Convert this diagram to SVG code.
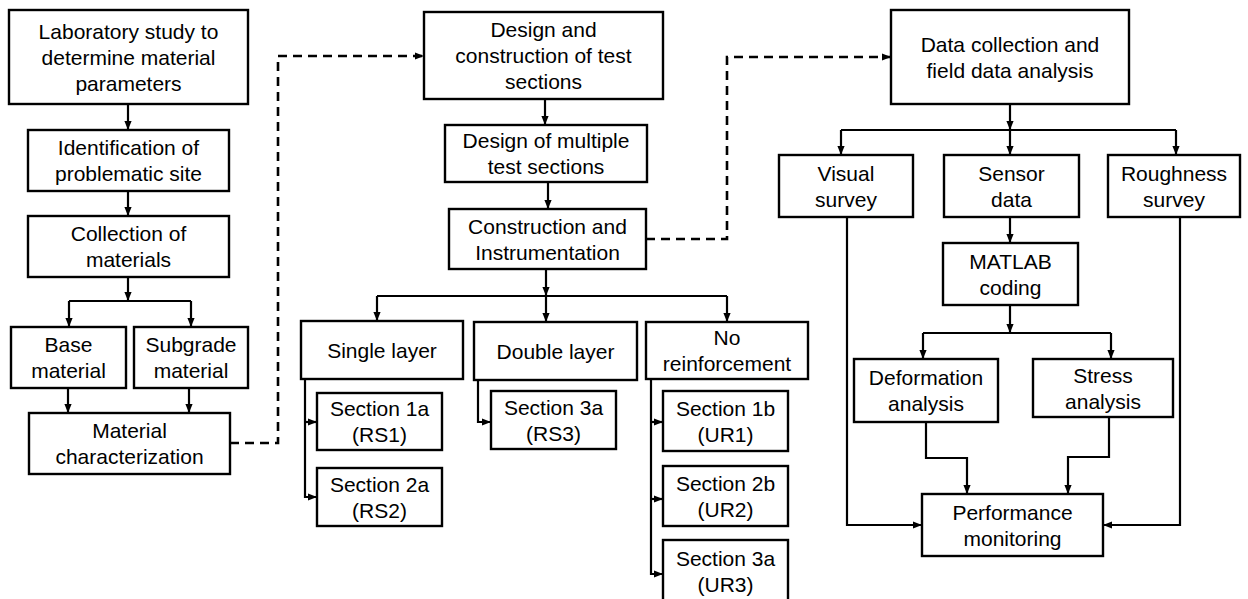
<svg xmlns="http://www.w3.org/2000/svg" width="1248" height="599" viewBox="0 0 1248 599">
  <style>
    .box rect { fill: #ffffff; stroke: #000000; stroke-width: 2.4; }
    .box text { font-family: "Liberation Sans", Arial, sans-serif; font-size: 21px; fill: #000000; text-anchor: middle; }
    .conn path { fill: none; stroke: #000000; stroke-width: 2.2; }
    .conn .dash { stroke-width: 2.6; stroke-dasharray: 9 6; }
  </style>
  <defs>
    <marker id="ah" viewBox="0 0 10 8" refX="10" refY="4" markerWidth="9" markerHeight="7.5" orient="auto" markerUnits="userSpaceOnUse">
      <path d="M0,0 L10,4 L0,8 z" fill="#000000"/>
    </marker>
  </defs>
  <rect width="1248" height="599" fill="#ffffff"/>

  <!-- connectors -->
  <g id="connectors" class="conn">
    <!-- laboratory column -->
    <path d="M128,104 V130" marker-end="url(#ah)"/>
    <path d="M128,191 V216" marker-end="url(#ah)"/>
    <path d="M128,277 V301" marker-end="url(#ah)"/>
    <path d="M69,301 H191"/>
    <path d="M69,301 V327" marker-end="url(#ah)"/>
    <path d="M191,301 V327" marker-end="url(#ah)"/>
    <path d="M68,388 V413" marker-end="url(#ah)"/>
    <path d="M189,388 V413" marker-end="url(#ah)"/>
    <path class="dash" d="M230,443 H278 V56 H424" marker-end="url(#ah)"/>

    <!-- test section column -->
    <path d="M545,99 V125" marker-end="url(#ah)"/>
    <path d="M548,182 V209" marker-end="url(#ah)"/>
    <path d="M546,269 V296" marker-end="url(#ah)"/>
    <path d="M377,296 H727"/>
    <path d="M377,296 V321" marker-end="url(#ah)"/>
    <path d="M546,296 V322" marker-end="url(#ah)"/>
    <path d="M727,296 V322" marker-end="url(#ah)"/>
    <path d="M305,379 V497 H317" marker-end="url(#ah)"/>
    <path d="M305,422 H317" marker-end="url(#ah)"/>
    <path d="M478,380 V422 H491" marker-end="url(#ah)"/>
    <path d="M651,379 V574 H663" marker-end="url(#ah)"/>
    <path d="M651,422 H663" marker-end="url(#ah)"/>
    <path d="M651,499 H663" marker-end="url(#ah)"/>
    <path class="dash" d="M646,239 H727 V57 H891" marker-end="url(#ah)"/>

    <!-- field data column -->
    <path d="M1010,104 V130" marker-end="url(#ah)"/>
    <path d="M841,130 H1176"/>
    <path d="M841,130 V155" marker-end="url(#ah)"/>
    <path d="M1010,130 V155" marker-end="url(#ah)"/>
    <path d="M1176,130 V155" marker-end="url(#ah)"/>
    <path d="M1010,217 V243" marker-end="url(#ah)"/>
    <path d="M1010,305 V333" marker-end="url(#ah)"/>
    <path d="M923,333 H1111"/>
    <path d="M923,333 V359" marker-end="url(#ah)"/>
    <path d="M1111,333 V359" marker-end="url(#ah)"/>
    <path d="M926,422 V458 H967 V494" marker-end="url(#ah)"/>
    <path d="M1109,417 V457 H1068 V494" marker-end="url(#ah)"/>
    <path d="M847,217 V525 H922" marker-end="url(#ah)"/>
    <path d="M1180,217 V525 H1103" marker-end="url(#ah)"/>
  </g>

  <!-- laboratory column -->
  <g id="lab-study" class="box">
    <rect x="9" y="10" width="239" height="94"/>
    <text x="128.5" y="38.5">Laboratory study to</text>
    <text x="128.5" y="64.5">determine material</text>
    <text x="128.5" y="90.5">parameters</text>
  </g>
  <g id="identification" class="box">
    <rect x="28" y="130" width="201" height="61"/>
    <text x="128.5" y="155">Identification of</text>
    <text x="128.5" y="181">problematic site</text>
  </g>
  <g id="collection" class="box">
    <rect x="28" y="216" width="201" height="61"/>
    <text x="128.5" y="241">Collection of</text>
    <text x="128.5" y="267">materials</text>
  </g>
  <g id="base-material" class="box">
    <rect x="11" y="327" width="115" height="61"/>
    <text x="68.5" y="352">Base</text>
    <text x="68.5" y="378">material</text>
  </g>
  <g id="subgrade-material" class="box">
    <rect x="134" y="327" width="114" height="61"/>
    <text x="191" y="352">Subgrade</text>
    <text x="191" y="378">material</text>
  </g>
  <g id="material-characterization" class="box">
    <rect x="29" y="413" width="201" height="61"/>
    <text x="129.5" y="438">Material</text>
    <text x="129.5" y="464">characterization</text>
  </g>

  <!-- test section column -->
  <g id="design-construction" class="box">
    <rect x="424" y="12" width="239" height="87"/>
    <text x="543.5" y="37">Design and</text>
    <text x="543.5" y="63">construction of test</text>
    <text x="543.5" y="89">sections</text>
  </g>
  <g id="design-multiple" class="box">
    <rect x="445" y="125" width="202" height="57"/>
    <text x="546" y="148">Design of multiple</text>
    <text x="546" y="174">test sections</text>
  </g>
  <g id="construction-instrumentation" class="box">
    <rect x="449" y="209" width="197" height="60"/>
    <text x="547.5" y="233.5">Construction and</text>
    <text x="547.5" y="259.5">Instrumentation</text>
  </g>
  <g id="single-layer" class="box">
    <rect x="301" y="321" width="162" height="58"/>
    <text x="382" y="357.5">Single layer</text>
  </g>
  <g id="double-layer" class="box">
    <rect x="474" y="322" width="163" height="58"/>
    <text x="555.5" y="358.5">Double layer</text>
  </g>
  <g id="no-reinforcement" class="box">
    <rect x="646" y="322" width="162" height="57"/>
    <text x="727" y="345">No</text>
    <text x="727" y="371">reinforcement</text>
  </g>
  <g id="section-1a" class="box">
    <rect x="317" y="393" width="125" height="57"/>
    <text x="379.5" y="416">Section 1a</text>
    <text x="379.5" y="442">(RS1)</text>
  </g>
  <g id="section-2a" class="box">
    <rect x="317" y="468" width="125" height="58"/>
    <text x="379.5" y="491.5">Section 2a</text>
    <text x="379.5" y="517.5">(RS2)</text>
  </g>
  <g id="section-3a-rs3" class="box">
    <rect x="491" y="391" width="125" height="58"/>
    <text x="553.5" y="414.5">Section 3a</text>
    <text x="553.5" y="440.5">(RS3)</text>
  </g>
  <g id="section-1b" class="box">
    <rect x="663" y="391" width="125" height="60"/>
    <text x="725.5" y="415.5">Section 1b</text>
    <text x="725.5" y="441.5">(UR1)</text>
  </g>
  <g id="section-2b" class="box">
    <rect x="663" y="466" width="125" height="60"/>
    <text x="725.5" y="490.5">Section 2b</text>
    <text x="725.5" y="516.5">(UR2)</text>
  </g>
  <g id="section-3a-ur3" class="box">
    <rect x="663" y="540" width="125" height="63"/>
    <text x="725.5" y="565.5">Section 3a</text>
    <text x="725.5" y="591.5">(UR3)</text>
  </g>

  <!-- field data column -->
  <g id="data-collection" class="box">
    <rect x="891" y="10" width="238" height="94"/>
    <text x="1010" y="51.5">Data collection and</text>
    <text x="1010" y="77.5">field data analysis</text>
  </g>
  <g id="visual-survey" class="box">
    <rect x="779" y="155" width="134" height="62"/>
    <text x="846" y="180.5">Visual</text>
    <text x="846" y="206.5">survey</text>
  </g>
  <g id="sensor-data" class="box">
    <rect x="944" y="155" width="135" height="62"/>
    <text x="1011.5" y="180.5">Sensor</text>
    <text x="1011.5" y="206.5">data</text>
  </g>
  <g id="roughness-survey" class="box">
    <rect x="1108" y="155" width="132" height="62"/>
    <text x="1174" y="180.5">Roughness</text>
    <text x="1174" y="206.5">survey</text>
  </g>
  <g id="matlab-coding" class="box">
    <rect x="943" y="243" width="135" height="62"/>
    <text x="1010.5" y="268.5">MATLAB</text>
    <text x="1010.5" y="294.5">coding</text>
  </g>
  <g id="deformation-analysis" class="box">
    <rect x="854" y="359" width="144" height="63"/>
    <text x="926" y="385">Deformation</text>
    <text x="926" y="411">analysis</text>
  </g>
  <g id="stress-analysis" class="box">
    <rect x="1033" y="359" width="140" height="58"/>
    <text x="1103" y="382.5">Stress</text>
    <text x="1103" y="408.5">analysis</text>
  </g>
  <g id="performance-monitoring" class="box">
    <rect x="922" y="494" width="181" height="62"/>
    <text x="1012.5" y="519.5">Performance</text>
    <text x="1012.5" y="545.5">monitoring</text>
  </g>
</svg>
